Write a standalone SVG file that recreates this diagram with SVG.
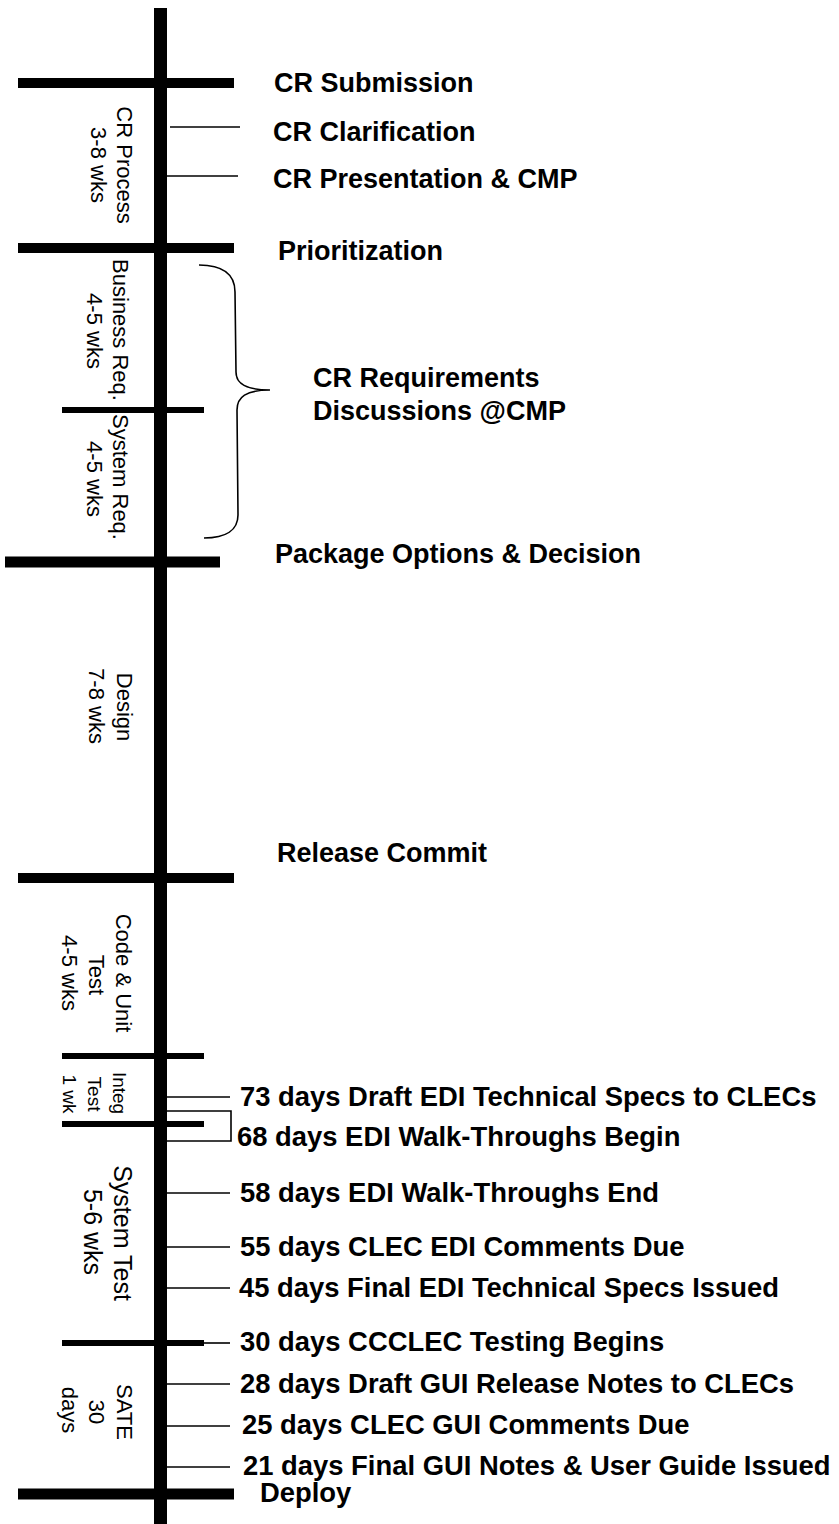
<svg xmlns="http://www.w3.org/2000/svg" width="839" height="1524" viewBox="0 0 839 1524">
<style>
.lbl{font-family:"Liberation Sans",Arial,sans-serif;font-weight:bold;font-size:27px;fill:#000}
.lo{font-size:27.4px}
.ph{font-family:"Liberation Sans",Arial,sans-serif;font-size:22px;fill:#000;text-anchor:middle}
.sm{font-size:19px}
.md{font-size:25px}
.thick{stroke:#000;stroke-width:10;fill:none}
.mid{stroke:#000;stroke-width:6;fill:none}
.thin{stroke:#000;stroke-width:1.6;fill:none}
</style>
<rect width="839" height="1524" fill="#fff"/>
<g id="connectors">
  <line class="thick" x1="160.5" y1="8" x2="160.5" y2="1524" style="stroke-width:13"/>
  <line class="thick" x1="18" y1="83" x2="234" y2="83"/>
  <line class="thick" x1="18" y1="248" x2="234" y2="248"/>
  <line class="mid" x1="62" y1="410" x2="204" y2="410"/>
  <line class="thick" x1="5" y1="562" x2="220" y2="562" style="stroke-width:11"/>
  <line class="thick" x1="18" y1="878" x2="234" y2="878"/>
  <line class="mid" x1="62" y1="1056" x2="204" y2="1056"/>
  <line class="mid" x1="62" y1="1124" x2="204" y2="1124"/>
  <line class="mid" x1="62" y1="1343" x2="204" y2="1343"/>
  <line class="thick" x1="18" y1="1494" x2="234" y2="1494" style="stroke-width:11"/>
  <line class="thin" x1="170" y1="127" x2="240" y2="127"/>
  <line class="thin" x1="167" y1="176" x2="238" y2="176"/>
  <line class="thin" x1="167" y1="1097" x2="230" y2="1097"/>
  <path class="thin" d="M167,1111 H231 V1141 H167"/>
  <line class="thin" x1="167" y1="1193" x2="230" y2="1193"/>
  <line class="thin" x1="167" y1="1247" x2="230" y2="1247"/>
  <line class="thin" x1="167" y1="1288" x2="230" y2="1288"/>
  <line class="thin" x1="204" y1="1343" x2="230" y2="1343"/>
  <line class="thin" x1="167" y1="1384" x2="230" y2="1384"/>
  <line class="thin" x1="167" y1="1426" x2="230" y2="1426"/>
  <line class="thin" x1="167" y1="1467" x2="230" y2="1467"/>
  <path class="thin" d="M199,265 C222,265 235,274 235,292 L236,372 C236,384 246,390 270,390 C246,390 237,397 237,410 L238,515 C238,530 226,538 204,538"/>
</g>
<g id="phase-cr-process">
  <text class="ph" transform="translate(117,165) rotate(90)">CR Process</text>
  <text class="ph" transform="translate(91,165) rotate(90)">3-8 wks</text>
</g>
<g id="phase-business-req">
  <text class="ph" transform="translate(113,330) rotate(90)">Business Req.</text>
  <text class="ph" transform="translate(87,331) rotate(90)">4-5 wks</text>
</g>
<g id="phase-system-req">
  <text class="ph" transform="translate(113,477) rotate(90)">System Req.</text>
  <text class="ph" transform="translate(87,479) rotate(90)">4-5 wks</text>
</g>
<g id="phase-design">
  <text class="ph" transform="translate(117,707) rotate(90)">Design</text>
  <text class="ph" transform="translate(89,706) rotate(90)">7-8 wks</text>
</g>
<g id="phase-code-unit">
  <text class="ph" transform="translate(116,973) rotate(90)">Code &amp; Unit</text>
  <text class="ph" transform="translate(89,975) rotate(90)">Test</text>
  <text class="ph" transform="translate(62,973) rotate(90)">4-5 wks</text>
</g>
<g id="phase-integ-test">
  <text class="ph sm" transform="translate(113,1093) rotate(90)">Integ</text>
  <text class="ph sm" transform="translate(88,1094) rotate(90)">Test</text>
  <text class="ph sm" transform="translate(63,1094) rotate(90)">1 wk</text>
</g>
<g id="phase-system-test">
  <text class="ph md" transform="translate(114,1233) rotate(90)">System Test</text>
  <text class="ph md" transform="translate(84,1232) rotate(90)">5-6 wks</text>
</g>
<g id="phase-sate">
  <text class="ph" transform="translate(117,1412) rotate(90)">SATE</text>
  <text class="ph" transform="translate(89,1412) rotate(90)">30</text>
  <text class="ph" transform="translate(62,1410) rotate(90)">days</text>
</g>
<g id="m-cr-submission"><text class="lbl" x="274" y="92">CR Submission</text></g>
<g id="m-cr-clarification"><text class="lbl" x="273" y="141">CR Clarification</text></g>
<g id="m-cr-presentation"><text class="lbl" x="273" y="188">CR Presentation &amp; CMP</text></g>
<g id="m-prioritization"><text class="lbl" x="278" y="260">Prioritization</text></g>
<g id="m-cr-requirements">
  <text class="lbl" x="313" y="387">CR Requirements</text>
  <text class="lbl" x="313" y="420">Discussions @CMP</text>
</g>
<g id="m-package"><text class="lbl" x="275" y="563">Package Options &amp; Decision</text></g>
<g id="m-release-commit"><text class="lbl" x="277" y="862">Release Commit</text></g>
<g id="m-73"><text class="lbl lo" x="240" y="1106">73 days Draft EDI Technical Specs to CLECs</text></g>
<g id="m-68"><text class="lbl lo" x="237" y="1146">68 days EDI Walk-Throughs Begin</text></g>
<g id="m-58"><text class="lbl lo" x="240" y="1202">58 days EDI Walk-Throughs End</text></g>
<g id="m-55"><text class="lbl lo" x="240" y="1256">55 days CLEC EDI Comments Due</text></g>
<g id="m-45"><text class="lbl lo" x="239" y="1297">45 days Final EDI Technical Specs Issued</text></g>
<g id="m-30"><text class="lbl lo" x="240" y="1351">30 days CCCLEC Testing Begins</text></g>
<g id="m-28"><text class="lbl lo" x="240" y="1393">28 days Draft GUI Release Notes to CLECs</text></g>
<g id="m-25"><text class="lbl lo" x="242" y="1434">25 days CLEC GUI Comments Due</text></g>
<g id="m-21"><text class="lbl lo" x="243" y="1475">21 days Final GUI Notes &amp; User Guide Issued</text></g>
<g id="m-deploy"><text class="lbl lo" x="260" y="1502">Deploy</text></g>
</svg>
